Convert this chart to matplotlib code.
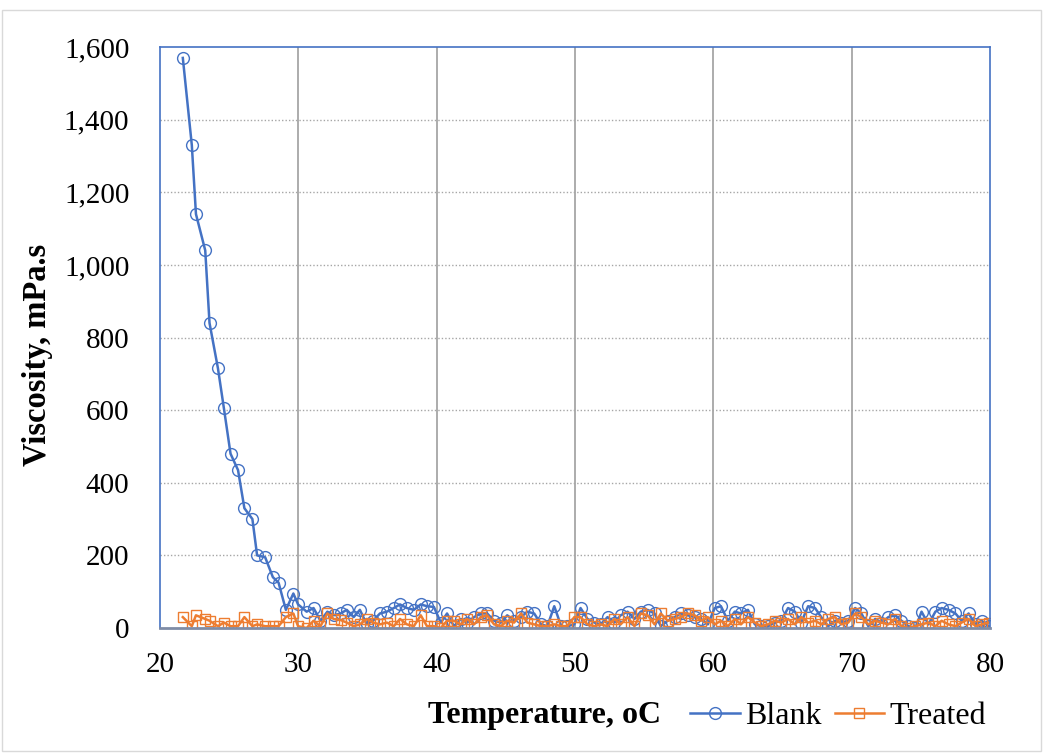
import matplotlib as mpl
import matplotlib.pyplot as plt
from matplotlib.patches import Rectangle

mpl.rcParams['font.family'] = ['Liberation Serif', 'DejaVu Serif']

# temperature (oC)
temp = [
    21.65, 22.30, 22.60, 23.27, 23.58, 24.19, 24.62, 25.10, 25.64, 26.10,
    26.68, 27.02, 27.60, 28.16, 28.57, 29.10, 29.64, 29.98, 30.60, 31.10,
    31.60, 32.10, 32.55, 33.05, 33.50, 34.00, 34.45, 34.95, 35.40, 35.90,
    36.40, 36.90, 37.35, 37.85, 38.35, 38.85, 39.30, 39.80, 40.30, 40.75,
    41.25, 41.75, 42.20, 42.70, 43.20, 43.65, 44.15, 44.65, 45.10, 45.60,
    46.10, 46.55, 47.05, 47.55, 48.00, 48.50, 49.00, 49.45, 49.95, 50.40,
    50.90, 51.40, 51.85, 52.35, 52.85, 53.30, 53.80, 54.30, 54.75, 55.25,
    55.75, 56.20, 56.70, 57.20, 57.65, 58.15, 58.65, 59.10, 59.60, 60.10,
    60.55, 61.05, 61.55, 62.00, 62.50, 63.00, 63.45, 63.95, 64.45, 64.90,
    65.40, 65.90, 66.35, 66.85, 67.35, 67.80, 68.30, 68.80, 69.25, 69.75,
    70.25, 70.70, 71.20, 71.70, 72.15, 72.65, 73.15, 73.60, 74.10, 74.60,
    75.05, 75.55, 76.05, 76.50, 77.00, 77.50, 77.95, 78.45, 78.95, 79.40, 79.90,
]

# viscosity (mPa.s)
blank = [
    1570, 1330, 1140, 1040, 840, 715, 605, 480, 435, 330,
    300, 200, 195, 140, 125, 50, 95, 65, 45, 55,
    20, 45, 35, 40, 50, 30, 50, 10, 20, 40,
    45, 55, 65, 55, 50, 65, 60, 58, 15, 40,
    5, 25, 15, 30, 40, 40, 20, 15, 35, 20,
    30, 45, 40, 10, 5, 60, 5, 5, 10, 55,
    25, 15, 10, 30, 15, 35, 45, 25, 45, 50,
    40, 5, 20, 30, 40, 35, 30, 25, 10, 55,
    60, 20, 45, 40, 50, 10, 5, 5, 15, 20,
    55, 45, 15, 60, 55, 30, 5, 20, 15, 20,
    55, 40, 5, 25, 15, 30, 35, 20, 5, 0,
    45, 10, 45, 55, 50, 40, 20, 40, 10, 20, 5,
]

treated = [
    30, 5, 35, 25, 20, 5, 15, 5, 5, 30,
    5, 10, 5, 5, 5, 30, 40, 5, 0, 20,
    5, 40, 25, 22, 15, 5, 10, 25, 15, 10,
    15, 5, 25, 10, 5, 35, 5, 5, 0, 20,
    20, 10, 25, 10, 30, 35, 10, 5, 20, 15,
    40, 15, 10, 5, 5, 10, 5, 5, 30, 30,
    10, 5, 10, 5, 25, 10, 30, 5, 40, 35,
    10, 40, 20, 25, 30, 40, 35, 20, 30, 10,
    20, 5, 25, 10, 30, 15, 5, 10, 20, 15,
    25, 10, 30, 15, 20, 10, 25, 30, 10, 15,
    40, 30, 10, 20, 15, 10, 25, 5, 0, 5,
    10, 15, 5, 20, 10, 5, 15, 25, 5, 10, 15,
]

BLUE = '#4472C4'
ORANGE = '#ED7D31'

fig = plt.figure(figsize=(10.45, 7.56), dpi=100)
ax = fig.add_axes([0.1531, 0.1693, 0.7943, 0.7685])

ax.plot(temp, blank, color=BLUE, lw=1.8, marker='o', ms=8.5, mfc='none',
        mec=BLUE, mew=1.0, label='Blank')
ax.plot(temp, treated, color=ORANGE, lw=1.8, marker='s', ms=6.8, mfc='none',
        mec=ORANGE, mew=1.0, label='Treated')

ax.set_xlim(20, 80)
ax.set_ylim(0, 1600)
ax.set_xticks(range(20, 81, 10))
ax.set_yticks(range(0, 1601, 200))
ax.yaxis.set_major_formatter(mpl.ticker.FuncFormatter(lambda v, p: f'{int(v):,}'))
ax.tick_params(axis='both', length=0, labelsize=21)
ax.tick_params(axis='y', pad=22)
ax.tick_params(axis='x', pad=17)

# grid: solid verticals, dotted horizontals
for xv in range(30, 80, 10):
    ax.axvline(xv, color='#A6A6A6', lw=1.3, zorder=0)
for yv in range(200, 1600, 200):
    ax.axhline(yv, color='#A6A6A6', lw=1.0, ls=(0, (1, 1.5)), zorder=0)

for s in ['left', 'top', 'right']:
    ax.spines[s].set_color(BLUE)
    ax.spines[s].set_linewidth(1.2)
ax.spines['bottom'].set_color('#7F8CA6')
ax.spines['bottom'].set_linewidth(2.0)

fig.text(38 / 1045, 1 - 355 / 756, 'Viscosity, mPa.s', rotation=90,
         ha='center', va='center', fontsize=23.5, fontweight='bold')
fig.text(544 / 1045, 1 - 716 / 756, 'Temperature, oC',
         ha='center', va='center', fontsize=23, fontweight='bold')

leg = ax.legend(loc='center left', bbox_to_anchor=(690 / 1045, 1 - 716 / 756),
                bbox_transform=fig.transFigure, ncol=2, frameon=False,
                fontsize=23, handlelength=1.55, handletextpad=0.18,
                columnspacing=0.4, borderaxespad=0, borderpad=0)

# outer chart border
fig.patches.append(Rectangle((0.002, 0.007), 0.994, 0.98, transform=fig.transFigure,
                             fill=False, edgecolor='#D9D9D9', lw=1.0))

fig.savefig('out.png', dpi=100)
